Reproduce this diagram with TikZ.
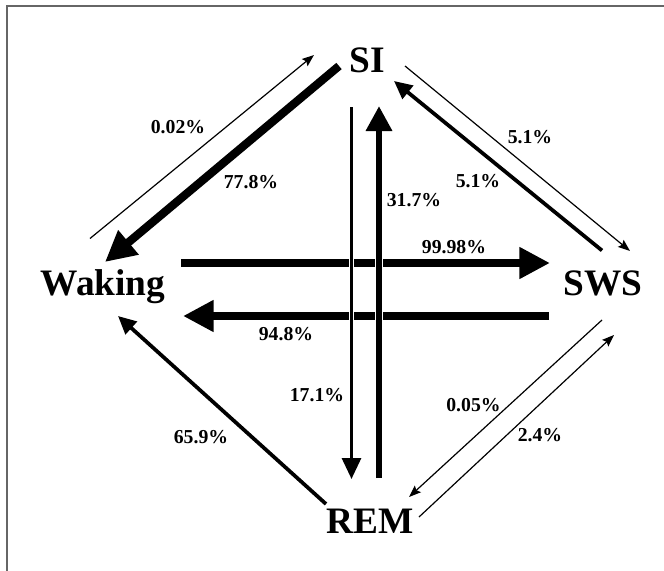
\documentclass[tikz,border=0pt]{standalone}
\usepackage{fontspec}
\setmainfont{Liberation Serif}
\usetikzlibrary{arrows.meta}
\begin{document}
\begin{tikzpicture}[x=0.75pt,y=-0.75pt,
  state/.style={font=\fontsize{28}{30}\selectfont\bfseries, inner sep=0pt, anchor=base},
  lbl/.style={font=\fontsize{14.8}{16}\selectfont\bfseries, inner sep=0pt},
  hairarrow/.style={line width=0.9pt, -{Stealth[length=9pt,width=6.8pt,inset=1.5pt]}},
  medarrow/.style={line width=2.8pt, -{Triangle[length=13.5pt,width=12.5pt]}},
  vthinarrow/.style={line width=2.3pt, -{Triangle[length=15.75pt,width=14.25pt]}},
  vthickarrow/.style={line width=4.9pt, -{Triangle[length=18.75pt,width=18.75pt]}},
  bigarrow/.style={line width=6.2pt, -{Triangle[length=23pt,width=22.5pt]}},
  frameline/.style={draw=black!60, line width=1.5pt}
]
\useasboundingbox (0,0) rectangle (664,571);
\fill[white] (0,0) rectangle (664,571);
% frame (top and left edges)
\draw[frameline] (664,6) -- (7,6) -- (7,571);

% states
\node[state] (SI) at (367.6,72) {SI};
\node[state] (W) at (103,295) {Waking};
\node[state] (SWS) at (603,295) {SWS};
\node[state] (REM) at (370,533) {REM};

% connector end points
\coordinate (a1) at (90,238.5);  \coordinate (a2) at (314,55);
\coordinate (b1) at (339,66);    \coordinate (b2) at (105,262);
\coordinate (c1) at (351.5,107); \coordinate (c2) at (351.5,479);
\coordinate (d1) at (379,478);   \coordinate (d2) at (379,106);
\coordinate (e1) at (181,263);   \coordinate (e2) at (550,263);
\coordinate (f1) at (549,316);   \coordinate (f2) at (183,316);
\coordinate (g1) at (405,66);    \coordinate (g2) at (630,251);
\coordinate (h1) at (602,250.5); \coordinate (h2) at (394,81);
\coordinate (i1) at (326,504);   \coordinate (i2) at (118,316);
\coordinate (j1) at (602,320);   \coordinate (j2) at (409,497);
\coordinate (k1) at (419,517);   \coordinate (k2) at (614,335);

% horizontal arrows
\draw[bigarrow] (e1) -- (e2);
\draw[bigarrow] (f1) -- (f2);
% vertical arrows (drawn over the horizontal ones)
\draw[vthinarrow, preaction={draw=white, line width=3.6pt, -}] (c1) -- (c2);
\draw[vthickarrow, preaction={draw=white, line width=6.2pt, -}] (d1) -- (d2);
% diagonal arrows
\draw[hairarrow] (a1) -- (a2);
\draw[bigarrow] (b1) -- (b2);
\draw[hairarrow] (g1) -- (g2);
\draw[medarrow] (h1) -- (h2);
\draw[medarrow] (i1) -- (i2);
\draw[hairarrow] (j1) -- (j2);
\draw[hairarrow] (k1) -- (k2);

% labels
\node[lbl] (l1) at (178,127.5) {0.02\%};
\node[lbl] (l2) at (251,182) {77.8\%};
\node[lbl] (l3) at (414,200) {31.7\%};
\node[lbl] (l4) at (530,137) {5.1\%};
\node[lbl] (l5) at (478,181) {5.1\%};
\node[lbl] (l6) at (454,247) {99.98\%};
\node[lbl] (l7) at (286,334) {94.8\%};
\node[lbl] (l8) at (317,395) {17.1\%};
\node[lbl] (l9) at (201,437) {65.9\%};
\node[lbl] (l10) at (473.5,405) {0.05\%};
\node[lbl] (l11) at (540,435) {2.4\%};
\end{tikzpicture}
\end{document}
